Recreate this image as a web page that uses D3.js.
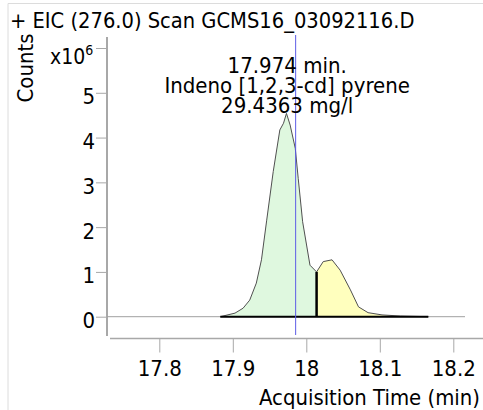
<!DOCTYPE html>
<html><head><meta charset="utf-8">
<script src="https://cdn.jsdelivr.net/npm/d3@7"></script>
<style>body{margin:0;background:#fff}text{font-family:"DejaVu Sans Condensed","DejaVu Sans",sans-serif;fill:#000}</style>
</head><body>
<svg id="c" width="483" height="410"></svg>
<script>
// ---- data ----
const titleText = "+ EIC (276.0) Scan GCMS16_03092116.D";
const yLabel = "Counts";
const xLabel = "Acquisition Time (min)";
const annotation = ["17.974 min.", "Indeno [1,2,3-cd] pyrene", "29.4363 mg/l"];
const xTicks = [17.8, 17.9, 18.0, 18.1, 18.2];
const xTickLabels = ["17.8", "17.9", "18", "18.1", "18.2"];
const yTicks = [0, 1, 2, 3, 4, 5];
const yTickLabels = ["0", "1", "2", "3", "4", "5"];
const yExponentTick = 6;
// acquisition time (min) and abundance (x10^6 counts)
const peak1Time   = [17.883, 17.903, 17.914, 17.923, 17.932, 17.939, 17.946, 17.955, 17.964, 17.969, 17.973, 17.978, 17.985, 17.989, 17.995, 18.005, 18.014];
const peak1Counts = [0.00,   0.08,   0.19,   0.37,   0.75,   1.27,   2.14,   3.24,   4.17,   4.32,   4.54,   4.28,   3.76,   3.09,   2.12,   1.15,   1.00];
const peak2Time   = [18.014, 18.023, 18.035, 18.046, 18.060, 18.071, 18.084, 18.103, 18.128, 18.166];
const peak2Counts = [1.00,   1.23,   1.27,   1.04,   0.60,   0.22,   0.09,   0.04,   0.015,  0.00];
const apexTime = 17.974;
const cursorTime = 17.9855;

// ---- layout ----
const svg = d3.select("#c");
const x = d3.scaleLinear().domain([17.8, 18.2]).range([159.3, 453.3]);
const y = d3.scaleLinear().domain([0, 6]).range([316.7, 48]);
const FS = 22;

// frame
svg.append("path").attr("d", "M8,410V3.5H483").attr("fill", "none").attr("stroke", "#dcdcdc").attr("stroke-width", 1);

// title
svg.append("text").attr("x", 10).attr("y", 28).attr("font-size", 21.7).text(titleText);

// y axis
svg.append("line").attr("x1", 107).attr("x2", 107).attr("y1", 37).attr("y2", 336)
  .attr("stroke", "#a8a8a8").attr("stroke-width", 2);
const yAxis = svg.append("g").attr("transform", "translate(106,0)")
  .call(d3.axisLeft(y).tickValues(yTicks.concat([yExponentTick])).tickSize(10).tickPadding(1)
    .tickFormat((d, i) => i < yTickLabels.length ? yTickLabels[i] : ""));
yAxis.select(".domain").remove();
yAxis.selectAll(".tick line").attr("stroke", "#a8a8a8").attr("stroke-width", 1);
yAxis.selectAll(".tick text").attr("font-size", FS).attr("dy", 11).attr("font-family", null).attr("fill", "#000");

// exponent label
const exp = svg.append("text").attr("x", 50).attr("y", 64).attr("font-size", 21);
exp.append("tspan").text("x10");
exp.append("tspan").attr("font-size", 14).attr("dy", -9).text("6");

// y label
svg.append("text").attr("transform", "translate(33,68) rotate(-90)").attr("text-anchor", "middle")
  .attr("font-size", FS).text(yLabel);

// x axis
const xAxis = svg.append("g").attr("transform", "translate(0,338.5)")
  .call(d3.axisBottom(x).tickValues(xTicks).tickSize(14).tickPadding(8)
    .tickFormat((d, i) => xTickLabels[i]));
xAxis.select(".domain").attr("d", "M110,0H483").attr("stroke", "#a8a8a8").attr("stroke-width", 1.5);
xAxis.selectAll(".tick line").attr("stroke", "#a8a8a8").attr("stroke-width", 1);
xAxis.selectAll(".tick text").attr("font-size", FS).attr("font-family", null).attr("dy", null)
  .attr("y", 37.5).attr("fill", "#000");

svg.append("text").attr("x", 480).attr("y", 405).attr("text-anchor", "end").attr("font-size", 21.9).text(xLabel);

// zero baseline
svg.append("line").attr("x1", 107).attr("x2", 465).attr("y1", y(0)).attr("y2", y(0))
  .attr("stroke", "#a0a0a0").attr("stroke-width", 1);

// peaks
const area = d3.area().x(d => x(d[0])).y0(y(0)).y1(d => y(d[1]));
const line = d3.line().x(d => x(d[0])).y(d => y(d[1]));
const p1 = peak1Time.map((t, i) => [t, peak1Counts[i]]);
const p2 = peak2Time.map((t, i) => [t, peak2Counts[i]]);
svg.append("path").attr("d", area(p1)).attr("fill", "#dff8df");
svg.append("path").attr("d", area(p2)).attr("fill", "#ffffbe");
svg.append("path").attr("d", line(p1.concat(p2.slice(1)))).attr("fill", "none").attr("stroke", "#505050").attr("stroke-width", 1);
// integration baseline and split
svg.append("line").attr("x1", x(peak1Time[0])).attr("x2", x(peak2Time[peak2Time.length - 1]))
  .attr("y1", y(0)).attr("y2", y(0)).attr("stroke", "#000").attr("stroke-width", 2);
svg.append("line").attr("x1", x(peak2Time[0])).attr("x2", x(peak2Time[0]))
  .attr("y1", y(0)).attr("y2", y(peak2Counts[0])).attr("stroke", "#000").attr("stroke-width", 2.5);

// cursor line
svg.append("line").attr("x1", x(cursorTime)).attr("x2", x(cursorTime)).attr("y1", 35).attr("y2", 335)
  .attr("stroke", "#5c5ce6").attr("stroke-width", 1);

// annotation
const ann = svg.append("text").attr("text-anchor", "middle").attr("font-size", FS);
annotation.forEach((s, i) => {
  ann.append("tspan").attr("x", x(apexTime)).attr("y", 72.5 + i * 20).text(s);
});
</script>
</body></html>
